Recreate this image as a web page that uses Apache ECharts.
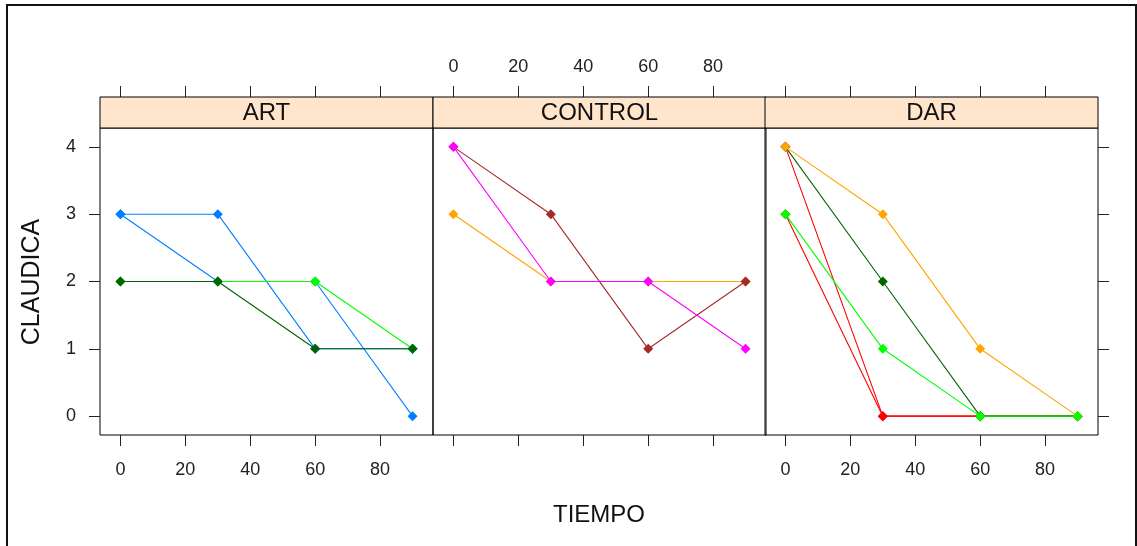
<!DOCTYPE html>
<html>
<head>
<meta charset="utf-8">
<script src="https://cdn.jsdelivr.net/npm/echarts@6/dist/echarts.min.js"></script>
<style>
html,body{margin:0;padding:0;background:#fff;}
#chart{width:1137px;height:546px;}
</style>
</head>
<body>
<div id="chart"></div>
<script>
// ---- data ----
const panels = ['ART', 'CONTROL', 'DAR'];
const tiempo = [0, 30, 60, 90];
const xTicks = [0, 20, 40, 60, 80];
const yTicks = [0, 1, 2, 3, 4];
const xTitle = 'TIEMPO';
const yTitle = 'CLAUDICA';

// ART subjects
const artBlueA = [3, 3, 1, 1];
const artBlueB = [3, 2, 2, 0];
const artLightGreen = [2, 2, 2, 1];
const artDarkGreen = [2, 2, 1, 1];
// CONTROL subjects
const ctrlOrange = [3, 2, 2, 2];
const ctrlBrown = [4, 3, 1, 2];
const ctrlMagenta = [4, 2, 2, 1];
// DAR subjects
const darRedA = [4, 0, 0, 0];
const darRedB = [3, 0, 0, 0];
const darDarkGreen = [4, 2, 0, 0];
const darOrange = [4, 3, 1, 0];
const darLightGreen = [3, 1, 0, 0];

const seriesDefs = [
  {panel: 0, values: artBlueA, color: '#0080FF'},
  {panel: 0, values: artBlueB, color: '#0080FF'},
  {panel: 0, values: artLightGreen, color: '#00FF00'},
  {panel: 0, values: artDarkGreen, color: '#006400'},
  {panel: 1, values: ctrlOrange, color: '#FFA500'},
  {panel: 1, values: ctrlBrown, color: '#A52A2A'},
  {panel: 1, values: ctrlMagenta, color: '#FF00FF'},
  {panel: 2, values: darRedA, color: '#FF0000'},
  {panel: 2, values: darRedB, color: '#FF0000'},
  {panel: 2, values: darDarkGreen, color: '#006400'},
  {panel: 2, values: darOrange, color: '#FFA500'},
  {panel: 2, values: darLightGreen, color: '#00FF00'}
];

// ---- layout ----
const FONT = '"Liberation Sans", Arial, sans-serif';
const panelLeft = [100, 433, 765];
const panelW = 333;
const plotTop = 128, plotH = 307;
const stripH = 31;
const xMin = -6.3, xMax = 96.3;
const yMin = -0.28, yMax = 4.28;
const tickLen = 11;
const ink = '#222';

const grids = panelLeft.map(l => ({
  left: l, top: plotTop, width: panelW, height: plotH,
  show: true, borderColor: '#000', borderWidth: 1, backgroundColor: 'transparent',
  containLabel: false
}));

const xAxes = [];
panelLeft.forEach((l, i) => {
  xAxes.push({
    type: 'value', gridIndex: i, position: 'bottom', min: xMin, max: xMax,
    axisLine: {show: false, onZero: false},
    splitLine: {show: false},
    axisTick: {show: true, inside: false, length: tickLen, customValues: xTicks, lineStyle: {color: ink, width: 1}},
    axisLabel: {show: i !== 1, customValues: xTicks, margin: 26, color: ink, fontSize: 18, fontFamily: FONT}
  });
});
panelLeft.forEach((l, i) => {
  xAxes.push({
    type: 'value', gridIndex: i, position: 'top', offset: stripH, min: xMin, max: xMax,
    axisLine: {show: false, onZero: false},
    splitLine: {show: false},
    axisTick: {show: true, inside: false, length: tickLen, customValues: xTicks, lineStyle: {color: ink, width: 1}},
    axisLabel: {show: i === 1, customValues: xTicks, margin: 21, color: ink, fontSize: 18, fontFamily: FONT}
  });
});

const yAxes = panelLeft.map((l, i) => ({
  type: 'value', gridIndex: i, position: i === 2 ? 'right' : 'left', min: yMin, max: yMax,
  show: i !== 1,
  axisLine: {show: false, onZero: false},
  splitLine: {show: false},
  axisTick: {show: true, inside: false, length: tickLen, customValues: yTicks, lineStyle: {color: ink, width: 1}},
  axisLabel: {show: i === 0, customValues: yTicks, margin: 24, color: ink, fontSize: 18, fontFamily: FONT}
}));

const series = seriesDefs.map((d, idx) => ({
  type: 'line',
  xAxisIndex: d.panel, yAxisIndex: d.panel,
  z: 2 + idx * 0.01,
  data: tiempo.map((t, k) => [t, d.values[k]]),
  symbol: 'diamond', symbolSize: 10,
  itemStyle: {color: d.color},
  lineStyle: {color: d.color, width: 1.1},
  emphasis: {disabled: true},
  silent: true
}));

const graphic = [];
panelLeft.forEach((l, i) => {
  graphic.push({
    type: 'rect', shape: {x: l, y: plotTop - stripH, width: panelW, height: stripH},
    style: {fill: '#FFE5CC', stroke: '#000', lineWidth: 1}, z: 10
  });
  graphic.push({
    type: 'text', x: l + panelW / 2, y: plotTop - stripH / 2 + 1,
    style: {text: panels[i], fill: '#111', font: '24px ' + FONT, align: 'center', verticalAlign: 'middle'}, z: 11
  });
});
graphic.push({
  type: 'text', x: 599, y: 515,
  style: {text: xTitle, fill: '#111', font: '24px ' + FONT, align: 'center', verticalAlign: 'middle'}
});
graphic.push({
  type: 'text', x: 32, y: 282, rotation: Math.PI / 2,
  style: {text: yTitle, fill: '#111', font: '25px ' + FONT, align: 'center', verticalAlign: 'middle'}
});
// outer frame
graphic.push({
  type: 'rect', shape: {x: 7, y: 5, width: 1129, height: 600},
  style: {fill: 'none', stroke: '#111', lineWidth: 2}
});

const chart = echarts.init(document.getElementById('chart'), null, {renderer: 'canvas'});
chart.setOption({
  animation: false,
  backgroundColor: '#fff',
  grid: grids,
  xAxis: xAxes,
  yAxis: yAxes,
  series: series,
  graphic: graphic
});
</script>
</body>
</html>
